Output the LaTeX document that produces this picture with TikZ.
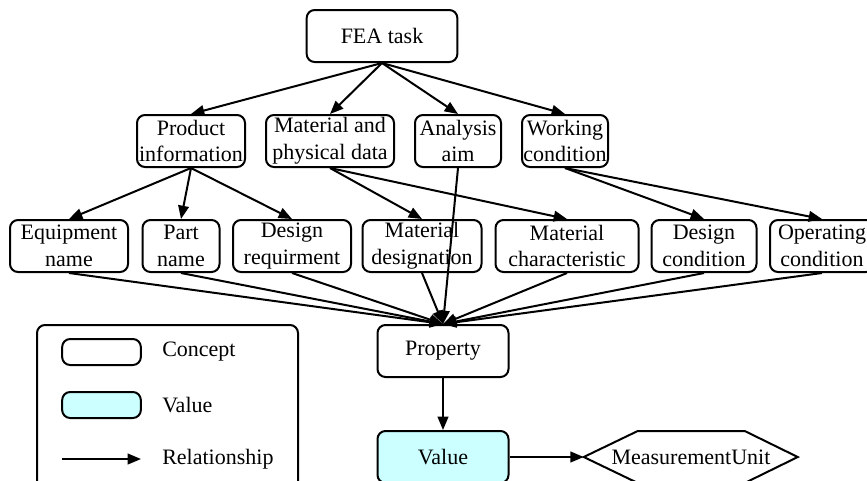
\documentclass[tikz,border=0pt]{standalone}
\usepackage{fontspec}
\setmainfont{Liberation Serif}
\usetikzlibrary{arrows.meta}

\begin{document}
\begin{tikzpicture}[
    x=0.75pt, y=-0.75pt,
    font=\fontsize{16.5}{20}\selectfont,
    concept/.style={
        rectangle,
        draw,
        line width=1.5pt,
        rounded corners=6pt,
        minimum height=39pt,
        inner sep=0pt,
        align=center
    },
    valuebox/.style={
        concept,
        fill=valuecyan
    },
    rel/.style={
        line width=1.5pt,
        -{Triangle[length=10pt,width=8pt]}
    }
]
\definecolor{valuecyan}{RGB}{204,255,255}
\useasboundingbox (0,0) rectangle (867,480);

\node[concept, minimum width=113pt] (fea) at (382,36) {FEA task};

\node[concept, minimum width=81pt] (pi) at (191,141) {Product\\information};
\node[concept, minimum width=96pt] (mpd) at (330,141) {Material and\\physical data};
\node[concept, minimum width=64.5pt] (aim) at (458,141) {Analysis\\aim};
\node[concept, minimum width=64.5pt] (wc) at (565,141) {Working\\condition};

\node[concept, minimum width=88.5pt] (eqn) at (69,246) {Equipment\\name};
\node[concept, minimum width=57.75pt] (pn) at (181,246) {Part\\name};
\node[concept, minimum width=88.5pt] (dr) at (292,246) {Design\\requirment};
\node[concept, minimum width=89.25pt] (md) at (422,246) {Material\\designation};
\node[concept, minimum width=107.25pt] (mc) at (567,246) {Material\\characteristic};
\node[concept, minimum width=78.75pt] (dc) at (704,246) {Design\\condition};
\node[concept, minimum width=78pt] (oc) at (822,246) {Operating\\condition};

\node[concept, minimum width=98.25pt] (prop) at (443,351) {Property};
\node[valuebox, minimum width=98.25pt] (val) at (443,457) {Value};
\node[inner sep=0pt, minimum width=160.5pt, minimum height=39pt] (mu) at (691,457) {MeasurementUnit};
\draw[line width=1.5pt] (mu.west) -- ++(54,-26) -- ++(107,0) -- ++(53,26)
    -- ++(-53,26) -- ++(-107,0) -- cycle;

\draw[rel] (fea.south) -- (pi.north);
\draw[rel] (fea.south) -- (mpd.north);
\draw[rel] (fea.south) -- (aim.north);
\draw[rel] (fea.south) -- (wc.north);

\draw[rel] (pi.south) -- (eqn.north);
\draw[rel] (pi.south) -- (pn.north);
\draw[rel] (pi.south) -- (dr.north);
\draw[rel] (mpd.south) -- (md.north);
\draw[rel] (mpd.south) -- (mc.north);
\draw[rel] (wc.south) -- (dc.north);
\draw[rel] (wc.south) -- (oc.north);

\draw[rel] (eqn.south) -- (prop.north);
\draw[rel] (pn.south) -- (prop.north);
\draw[rel] (dr.south) -- (prop.north);
\draw[rel] (md.south) -- (prop.north);
\draw[rel] (aim.south) -- (prop.north);
\draw[rel] (mc.south) -- (prop.north);
\draw[rel] (dc.south) -- (prop.north);
\draw[rel] (oc.south) -- (prop.north);

\draw[rel] (prop.south) -- (val.north);
\draw[rel] (val.east) -- (mu.west);

% legend
\draw[line width=1.5pt, rounded corners=6pt] (37,325) rectangle (298,495);
\node[concept, minimum width=59pt, minimum height=19.5pt] (legc) at (101.5,352) {};
\node[valuebox, minimum width=59pt, minimum height=19.5pt] (legv) at (101.5,405) {};
\coordinate (lega) at (62,459);
\coordinate (legb) at (141,459);
\draw[rel] (lega) -- (legb);
\node[anchor=west, inner sep=0pt] (legct) at (162,352) {Concept};
\node[anchor=west, inner sep=0pt] (legvt) at (162,405) {Value};
\node[anchor=west, inner sep=0pt] (legrt) at (162,459) {Relationship};

\end{tikzpicture}
\end{document}
